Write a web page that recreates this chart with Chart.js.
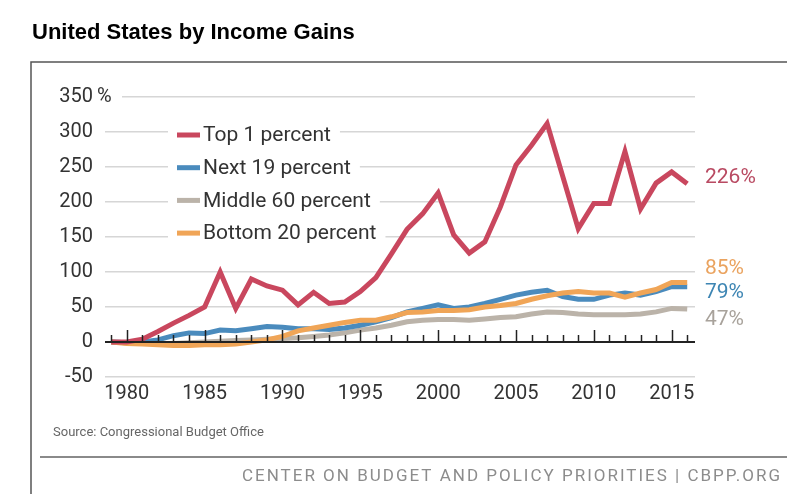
<!DOCTYPE html>
<html lang="en">
<head>
  <meta charset="UTF-8">
  <title>United States by Income Gains</title>
  <script src="https://cdn.jsdelivr.net/npm/chart.js"></script>
  <style>
    body { margin: 0; background: #fff; }
    .wrap { width: 787px; height: 494px; position: relative; }
  </style>
</head>
<body>
  <div class="wrap"><canvas id="gainsChart"></canvas></div>

  <script>
    // data (cumulative % income gain since 1979)
    const years = [1979, 1980, 1981, 1982, 1983, 1984, 1985, 1986, 1987, 1988,
      1989, 1990, 1991, 1992, 1993, 1994, 1995, 1996, 1997, 1998,
      1999, 2000, 2001, 2002, 2003, 2004, 2005, 2006, 2007, 2008,
      2009, 2010, 2011, 2012, 2013, 2014, 2015, 2016];
    const top1 = [0, 0, 4, 15, 27, 38, 50, 100, 48, 90,
      80, 74, 53, 71, 55, 57, 72, 92, 126, 161,
      183, 213, 153, 127, 143, 193, 253, 281, 312, 237,
      162, 198, 198, 272, 190, 227, 243, 226];
    const next19 = [0, -1, 0, 3, 9, 13, 12, 17, 16, 19,
      22, 21, 19, 19, 18, 20, 24, 29, 35, 43,
      48, 53, 48, 50, 55, 61, 67, 71, 74, 65,
      61, 61, 67, 70, 67, 72, 79, 79];
    const middle60 = [0, -1, -2, -2, -2, -1, 0, 1, 2, 3,
      4, 5, 6, 8, 10, 13, 17, 20, 24, 29,
      31, 32, 32, 31, 33, 35, 36, 40, 43, 42,
      40, 39, 39, 39, 40, 43, 48, 47];
    const bottom20 = [0, -2, -3, -4, -5, -5, -4, -4, -3, 0,
      3, 8, 16, 20, 24, 28, 31, 31, 36, 42,
      43, 45, 45, 46, 50, 52, 55, 61, 66, 70,
      72, 70, 70, 64, 70, 75, 85, 85];
    const seriesNames = ['Top 1 percent', 'Next 19 percent', 'Middle 60 percent', 'Bottom 20 percent'];
    const endLabels = ['226%', '79%', '47%', '85%'];
    const xTickYears = [1980, 1985, 1990, 1995, 2000, 2005, 2010, 2015];

    const FONT = "'Roboto', sans-serif";
    Chart.defaults.font.family = FONT;

    const lineColors = ['#c9475e', '#4a8bbd', '#bbb3a9', '#f0a557'];
    const labelColors = ['#b94a62', '#3d85b3', '#a8a29b', '#eaa35f'];
    const endNudge = [-6, 6, 11, -14];

    function pts(vals) {
      return years.map((y, i) => ({ x: y, y: vals[i] }));
    }

    const decor = {
      id: 'decor',
      beforeDraw(chart) {
        const c = chart.ctx;
        c.save();
        c.fillStyle = '#fff';
        c.fillRect(0, 0, chart.width, chart.height);
        // heading
        c.fillStyle = '#000';
        c.font = "bold 22px 'Liberation Sans', sans-serif";
        c.textBaseline = 'middle';
        c.fillText('United States by Income Gains', 32, 33);
        // frame
        c.strokeStyle = '#555';
        c.lineWidth = 1.5;
        c.beginPath();
        c.moveTo(31, chart.height);
        c.lineTo(31, 62);
        c.lineTo(chart.width, 62);
        c.stroke();
        // source + footer
        c.fillStyle = '#666';
        c.font = '13px ' + FONT;
        c.fillText('Source: Congressional Budget Office', 53, 433);
        c.strokeStyle = '#8a8a8a';
        c.lineWidth = 2;
        c.beginPath();
        c.moveTo(40, 457);
        c.lineTo(chart.width, 457);
        c.stroke();
        c.fillStyle = '#8c8c8c';
        c.font = '17px ' + FONT;
        c.letterSpacing = '2px';
        c.fillText('CENTER ON BUDGET AND POLICY PRIORITIES | CBPP.ORG', 242, 477);
        c.letterSpacing = '0px';
        c.restore();
      },
      beforeDatasetsDraw(chart) {
        const c = chart.ctx;
        const ys = chart.scales.y;
        c.save();
        // "%" after the top tick label
        const yTop = ys.getPixelForValue(350);
        c.fillStyle = '#fff';
        c.fillRect(95, yTop - 3, 27, 6);
        c.fillStyle = '#333';
        c.font = '20px ' + FONT;
        c.textBaseline = 'middle';
        c.fillText('%', 97, yTop);
        // legend
        c.font = '21px ' + FONT;
        chart.data.datasets.forEach((ds, i) => {
          const cy = 135 + i * 32.7;
          const w = c.measureText(ds.label).width;
          c.fillStyle = '#fff';
          c.fillRect(168, cy - 14, 203 + w + 9 - 168, 28);
          c.fillStyle = ds.borderColor;
          c.fillRect(177, cy - 2.5, 23, 5);
          c.fillStyle = '#333';
          c.fillText(ds.label, 203, cy + 1);
        });
        c.restore();
      },
      afterDatasetsDraw(chart) {
        const c = chart.ctx;
        const xs = chart.scales.x, ys = chart.scales.y;
        const area = chart.chartArea;
        const y0 = ys.getPixelForValue(0);
        c.save();
        c.strokeStyle = '#222';
        c.lineWidth = 2;
        c.beginPath();
        c.moveTo(area.left, y0);
        c.lineTo(area.right, y0);
        c.stroke();
        c.lineWidth = 1.5;
        years.forEach(yr => {
          const x = Math.round(xs.getPixelForValue(yr)) + 0.5;
          c.beginPath();
          c.moveTo(x, y0);
          c.lineTo(x, y0 - (yr % 5 === 0 ? 12 : 7));
          c.stroke();
        });
        // end-of-line values
        c.font = '21px ' + FONT;
        c.textBaseline = 'middle';
        chart.data.datasets.forEach((ds, i) => {
          const last = ds.data[ds.data.length - 1];
          const py = ys.getPixelForValue(last.y) + endNudge[i];
          c.fillStyle = labelColors[i];
          c.fillText(endLabels[i], 705, py);
        });
        c.restore();
      }
    };

    const seriesVals = [top1, next19, middle60, bottom20];
    const zOrder = [0, 2, 3, 1];

    new Chart(document.getElementById('gainsChart'), {
      type: 'line',
      data: {
        datasets: seriesVals.map((vals, i) => ({
          label: seriesNames[i],
          data: pts(vals),
          borderColor: lineColors[i],
          backgroundColor: lineColors[i],
          borderWidth: 5,
          pointRadius: 0,
          tension: 0,
          borderJoinStyle: 'miter',
          order: zOrder[i]
        }))
      },
      options: {
        responsive: true,
        maintainAspectRatio: false,
        animation: false,
        layout: { padding: { top: 97, right: 92, bottom: 87, left: 0 } },
        plugins: {
          legend: { display: false },
          tooltip: { enabled: false }
        },
        scales: {
          x: {
            type: 'linear',
            min: 1978.6,
            max: 2016.5,
            afterBuildTicks: s => { s.ticks = xTickYears.map(v => ({ value: v })); },
            afterFit: s => { s.height = 30; },
            grid: { display: false, drawTicks: false },
            border: { display: false },
            ticks: {
              color: '#333',
              font: { size: 20 },
              padding: 5,
              maxRotation: 0,
              callback: v => String(v)
            }
          },
          y: {
            min: -50,
            max: 350,
            afterFit: s => { s.width = 105; },
            grid: {
              drawTicks: false,
              lineWidth: 1.5,
              color: ctx => (ctx.tick && ctx.tick.value === 0) ? 'rgba(0,0,0,0)' : '#d6d6d6'
            },
            border: { display: false },
            ticks: {
              stepSize: 50,
              color: '#333',
              font: { size: 20 },
              padding: 12
            }
          }
        }
      },
      plugins: [decor]
    });
  </script>
</body>
</html>
